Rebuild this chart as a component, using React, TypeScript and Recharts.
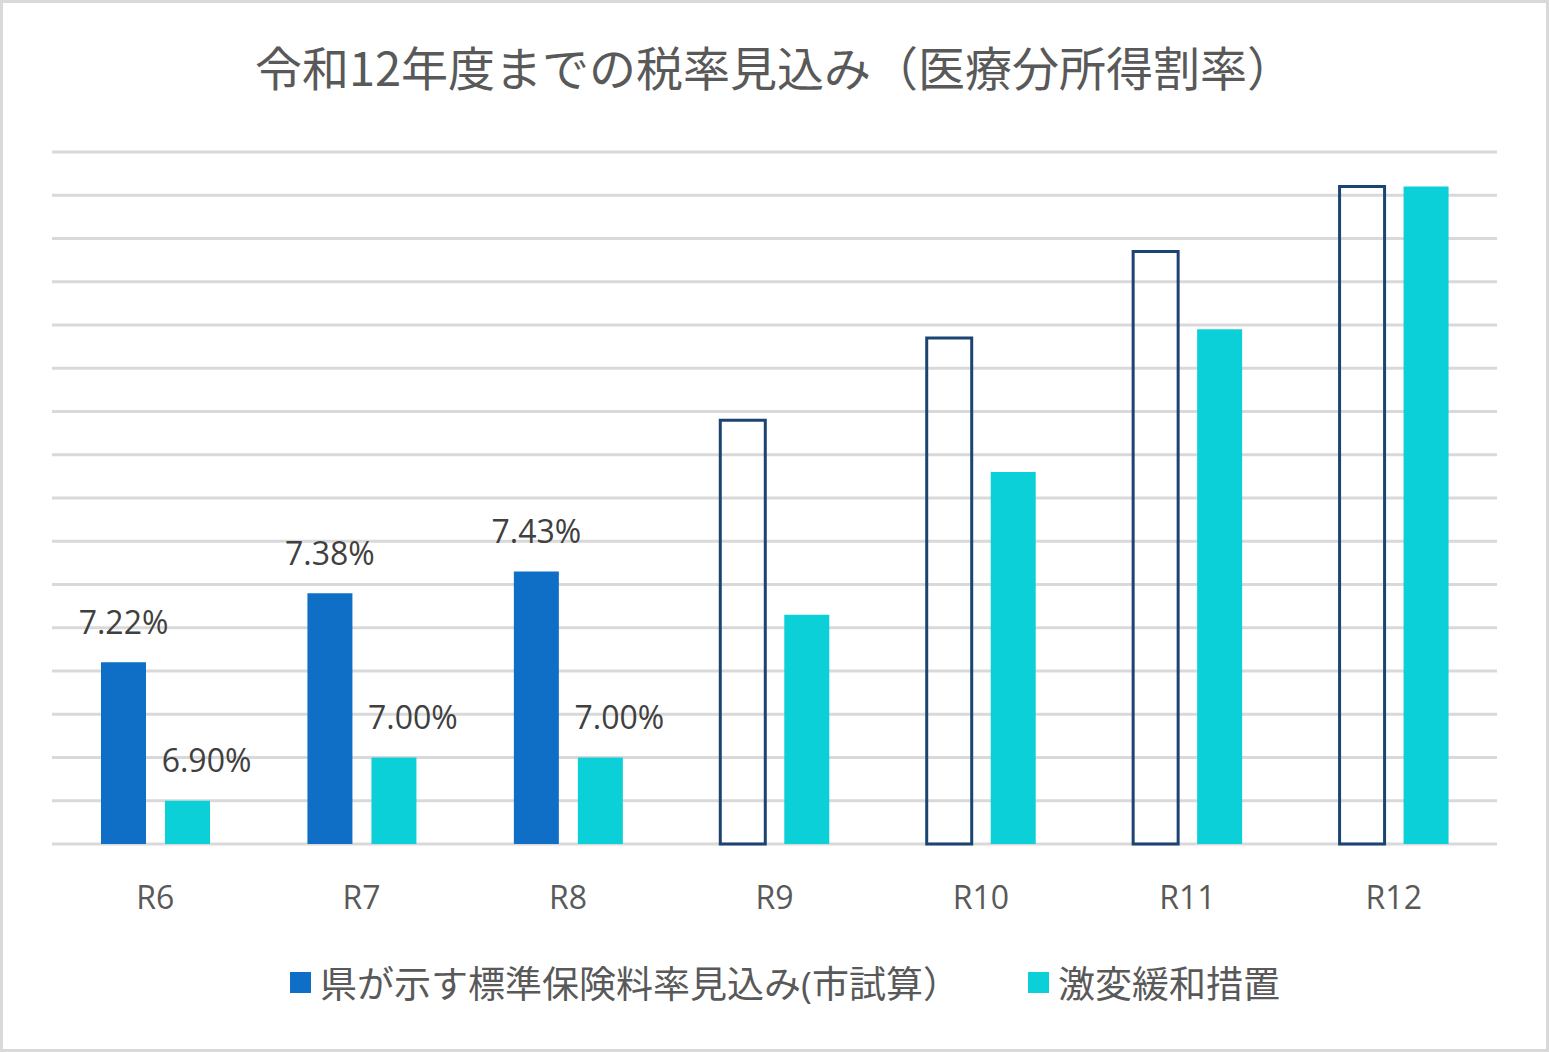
import { BarChart, Bar, XAxis, YAxis, CartesianGrid, Legend, Cell, LabelList } from "recharts";

const categories = ["R6", "R7", "R8", "R9", "R10", "R11", "R12"];
const prefRates = [7.22, 7.38, 7.43, 7.78, 7.97, 8.17, 8.32];
const reliefRates = [6.9, 7.0, 7.0, 7.33, 7.66, 7.99, 8.32];
// R9以降は見込み（枠線のみ）
const isEstimate = [false, false, false, true, true, true, true];
const yTicks = [6.8, 6.9, 7.0, 7.1, 7.2, 7.3, 7.4, 7.5, 7.6, 7.7, 7.8, 7.9, 8.0, 8.1, 8.2, 8.3, 8.4];

const seriesNames = ["県が示す標準保険料率見込み(市試算）", "激変緩和措置"];

const data = categories.map((c, i) => ({
  name: c,
  pref: prefRates[i],
  relief: reliefRates[i],
}));

const BLUE = "#0F6FC6";
const CYAN = "#0CD0D8";
const NAVY = "#1C4473";
const FONT = "'Open Sans', 'Noto Sans CJK JP', sans-serif";

function makeLabel(dx: number) {
  return (props: any) => {
    const { x, y, width, value, index } = props;
    if (isEstimate[index]) return null;
    return (
      <text
        x={x + width / 2 + dx}
        y={y - 41}
        textAnchor="middle"
        dominantBaseline="central"
        fontSize={32}
        fontFamily={FONT}
        fill="#404040"
      >
        {Number(value).toFixed(2)}%
      </text>
    );
  };
}

function Tick(props: any) {
  const { x, y, payload } = props;
  return (
    <text x={x} y={y + 44} textAnchor="middle" dominantBaseline="central" fontSize={32} fontFamily={FONT} fill="#595959">
      {payload.value}
    </text>
  );
}

function LegendBox() {
  const colors = [BLUE, CYAN];
  return (
    <div style={{ position: "relative", width: 1549, height: 50, fontFamily: FONT, fontSize: 37, color: "#595959" }}>
      {seriesNames.map((n, i) => (
        <div
          key={n}
          style={{ position: "absolute", left: i === 0 ? 290 : 1028, top: 0, display: "flex", alignItems: "center", whiteSpace: "nowrap" }}
        >
          <span style={{ display: "inline-block", width: 21, height: 21, background: colors[i], marginRight: 9 }} />
          <span>{n}</span>
        </div>
      ))}
    </div>
  );
}

export default function App() {
  return (
    <div style={{ position: "absolute", left: 0, top: 0, width: 1549, height: 1052, background: "#fff" }}>
      <div
        style={{
          position: "absolute",
          left: 0,
          top: 0,
          width: 1549,
          textAlign: "center",
          boxSizing: "border-box",
          marginTop: 36,
          fontFamily: "'Noto Sans CJK JP', sans-serif",
          fontSize: 47,
          lineHeight: "60px",
          color: "#595959",
        }}
      >
        令和12年度までの税率見込み（医療分所得割率）
      </div>
      <div style={{ position: "absolute", left: 0, top: 0 }}>
        <BarChart width={1549} height={1052} data={data} margin={{ top: 152, right: 52, bottom: 148, left: 52 }} barSize={45} barGap={19}>
          <CartesianGrid vertical={false} stroke="#d9d9d9" strokeWidth={3} />
          <XAxis dataKey="name" axisLine={false} tickLine={false} height={60} tick={<Tick />} />
          <YAxis hide domain={[6.8, 8.4]} ticks={yTicks} interval={0} />
          <Legend
            verticalAlign="middle"
            align="center"
            layout="horizontal"
            wrapperStyle={{ top: 955, left: 0, width: 1549 }}
            content={() => <LegendBox />}
          />
          <Bar dataKey="pref" name={seriesNames[0]} fill={BLUE} isAnimationActive={false}>
            {data.map((d, i) => (
              <Cell
                key={d.name}
                fill={isEstimate[i] ? "none" : BLUE}
                stroke={isEstimate[i] ? NAVY : "none"}
                strokeWidth={isEstimate[i] ? 3 : 0}
              />
            ))}
            <LabelList dataKey="pref" content={makeLabel(0)} />
          </Bar>
          <Bar dataKey="relief" name={seriesNames[1]} fill={CYAN} isAnimationActive={false}>
            <LabelList dataKey="relief" content={makeLabel(19)} />
          </Bar>
        </BarChart>
      </div>
      <div
        style={{
          position: "absolute",
          left: 0,
          top: 0,
          width: 1549,
          height: 1052,
          border: "3px solid #d9d9d9",
          boxSizing: "border-box",
          pointerEvents: "none",
        }}
      />
    </div>
  );
}
